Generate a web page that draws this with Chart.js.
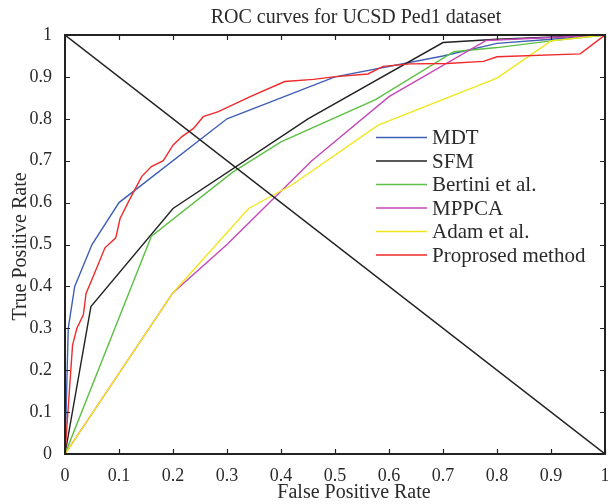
<!DOCTYPE html>
<html>
<head>
<meta charset="utf-8">
<script src="https://cdn.jsdelivr.net/npm/chart.js@4"></script>
<style>
html,body{margin:0;padding:0;background:#fff;}
#wrap{width:608px;height:504px;position:relative;}
</style>
</head>
<body>
<div id="wrap"><canvas id="c" width="608" height="504"></canvas></div>
<script>
// ---- data ----
const chartTitle = "ROC curves for UCSD Ped1 dataset";
const xTitle = "False Positive Rate";
const yTitle = "True Positive Rate";
const tickValues = [0,0.1,0.2,0.3,0.4,0.5,0.6,0.7,0.8,0.9,1];
const tickLabels = ["0","0.1","0.2","0.3","0.4","0.5","0.6","0.7","0.8","0.9","1"];

const seriesNames = ["MDT","SFM","Bertini et al.","MPPCA","Adam et al.","Proprosed method"];
const seriesColors = ["#3f5fb4","#222222","#5cc044","#c548b8","#f2e61c","#ef2a2a"];

const mdtX = [0,0.006,0.018,0.05,0.1,0.3,0.5,0.7,0.8,0.9,1];
const mdtY = [0,0.30,0.40,0.50,0.60,0.80,0.90,0.95,0.98,0.99,1];

const sfmX = [0,0.048,0.2,0.45,0.7,0.8,1];
const sfmY = [0,0.352,0.586,0.80,0.982,0.99,1];

const bertiniX = [0,0.16,0.31,0.4,0.575,0.72,0.8,0.9,1];
const bertiniY = [0,0.52,0.672,0.745,0.846,0.96,0.97,0.986,1];

const mppcaX = [0,0.2,0.3,0.457,0.6,0.78,0.9,1];
const mppcaY = [0,0.385,0.5,0.70,0.853,0.987,0.994,1];

const adamX = [0,0.2,0.34,0.42,0.58,0.8,0.9,1];
const adamY = [0,0.385,0.586,0.642,0.785,0.897,0.986,1];

const propX = [0,0.014,0.022,0.034,0.039,0.052,0.074,0.094,0.102,0.119,0.142,0.16,0.182,0.2,0.216,0.238,0.256,0.284,0.343,0.407,0.46,0.497,0.561,0.589,0.639,0.707,0.775,0.8,0.954,1];
const propY = [0,0.26,0.30,0.332,0.383,0.423,0.492,0.516,0.562,0.606,0.662,0.686,0.70,0.737,0.757,0.777,0.805,0.817,0.853,0.889,0.894,0.90,0.907,0.925,0.931,0.932,0.937,0.948,0.955,1];

const diagX = [0,1];
const diagY = [1,0];

// ---- build ----
function pts(xs, ys){ return xs.map((x,i)=>({x:x, y:ys[i]})); }
const seriesX = [mdtX,sfmX,bertiniX,mppcaX,adamX,propX];
const seriesY = [mdtY,sfmY,bertiniY,mppcaY,adamY,propY];

const datasets = seriesNames.map((n,i)=>({
  label:n, data:pts(seriesX[i],seriesY[i]),
  borderColor:seriesColors[i], backgroundColor:seriesColors[i],
  borderWidth:1.4, pointRadius:0, tension:0, fill:false, order:10-i
}));
datasets.push({label:"_diag", data:pts(diagX,diagY), borderColor:"#222222",
  borderWidth:1.4, pointRadius:0, tension:0, fill:false, order:0});

const FONT = "'Liberation Serif', 'DejaVu Serif', serif";
const TXT = "#2a2a2a";

const decor = {
  id:'decor',
  afterDraw(chart){
    const ctx = chart.ctx, a = chart.chartArea;
    const xs = chart.scales.x, ys = chart.scales.y;
    ctx.save();
    // inward ticks on all four sides
    ctx.strokeStyle = "#222"; ctx.lineWidth = 1.2;
    const tl = 5;
    tickValues.forEach(v=>{
      const px = Math.round(xs.getPixelForValue(v))+0.5;
      ctx.beginPath(); ctx.moveTo(px,a.bottom); ctx.lineTo(px,a.bottom-tl);
      ctx.moveTo(px,a.top); ctx.lineTo(px,a.top+tl); ctx.stroke();
      const py = Math.round(ys.getPixelForValue(v))+0.5;
      ctx.beginPath(); ctx.moveTo(a.left,py); ctx.lineTo(a.left+tl,py);
      ctx.moveTo(a.right,py); ctx.lineTo(a.right-tl,py); ctx.stroke();
    });
    // frame
    ctx.lineWidth = 2; ctx.strokeStyle = "#222";
    ctx.strokeRect(a.left, a.top, a.right-a.left, a.bottom-a.top);
    // titles
    ctx.fillStyle = TXT;
    ctx.font = "20px " + FONT;
    ctx.textAlign = "center"; ctx.textBaseline = "alphabetic";
    ctx.fillText(chartTitle, 356, 23);
    ctx.fillText(xTitle, 354, 498);
    ctx.save();
    ctx.translate(26, (a.top+a.bottom)/2 + 2);
    ctx.rotate(-Math.PI/2);
    ctx.fillText(yTitle, 0, 0);
    ctx.restore();
    // legend
    ctx.font = "21px " + FONT;
    ctx.textAlign = "left"; ctx.textBaseline = "middle";
    const ly0 = 137.5, dy = 23.5;
    seriesNames.forEach((n,i)=>{
      const y = ly0 + i*dy;
      ctx.strokeStyle = seriesColors[i]; ctx.lineWidth = 1.4;
      ctx.beginPath(); ctx.moveTo(376,y); ctx.lineTo(427,y); ctx.stroke();
      ctx.fillStyle = TXT;
      ctx.fillText(n, 432, y+1);
    });
    ctx.restore();
  }
};

new Chart(document.getElementById('c'), {
  type:'line',
  data:{datasets:datasets},
  options:{
    responsive:false, animation:false, devicePixelRatio:1,
    layout:{padding:{left:0,right:3,top:35,bottom:0}},
    plugins:{legend:{display:false}, title:{display:false}, tooltip:{enabled:false}},
    scales:{
      x:{type:'linear', min:0, max:1, position:'bottom',
        afterBuildTicks(s){ s.ticks = tickValues.map(v=>({value:v})); },
        ticks:{padding:3, color:TXT, font:{family:FONT,size:18}, maxRotation:0, autoSkip:false,
          callback:(v)=>tickLabels[tickValues.indexOf(v)] ?? ""},
        grid:{display:false}, border:{display:false},
        afterFit(s){ s.height = 50; s.paddingLeft = 0; s.paddingRight = 0; }
      },
      y:{type:'linear', min:0, max:1, position:'left',
        afterBuildTicks(s){ s.ticks = tickValues.map(v=>({value:v})); },
        ticks:{padding:5, color:TXT, font:{family:FONT,size:18}, autoSkip:false,
          callback:(v)=>tickLabels[tickValues.indexOf(v)] ?? ""},
        grid:{display:false}, border:{display:false},
        afterFit(s){ s.width = 65; s.paddingTop = 0; s.paddingBottom = 0; }
      }
    }
  },
  plugins:[decor]
});
</script>
</body>
</html>
